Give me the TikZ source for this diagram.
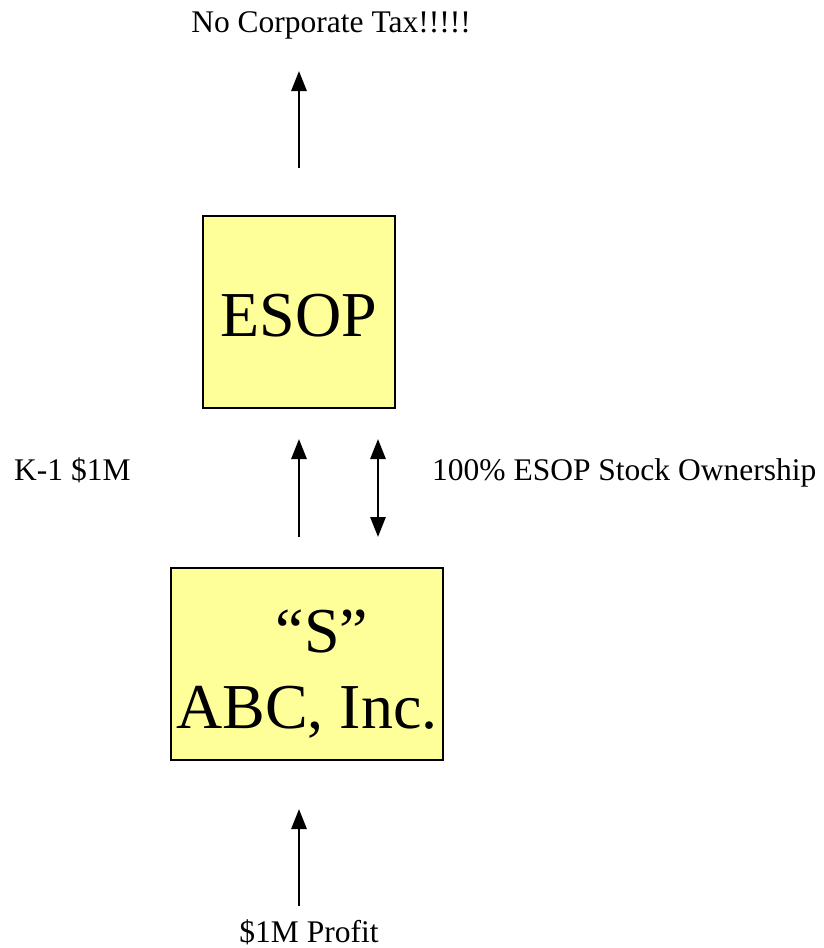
\documentclass[tikz,border=0pt]{standalone}
\usepackage{fontspec}
\setmainfont{Liberation Serif}
\usetikzlibrary{arrows.meta}
\definecolor{boxfill}{HTML}{FFFF99}
\begin{document}
\begin{tikzpicture}[x=1pt,y=-1pt,
  entity/.style={draw=black,line width=1.5pt,fill=boxfill,inner sep=0pt},
  big/.style={font=\fontsize{64}{72}\selectfont,inner sep=0pt,anchor=base},
  flow/.style={line width=2.8pt,-{Triangle[length=20pt,width=15pt]}},
  both/.style={line width=2.8pt,{Triangle[length=20pt,width=15pt]}-{Triangle[length=20pt,width=15pt]}},
  lbl/.style={font=\fontsize{31.5}{36}\selectfont,inner sep=0pt,anchor=base}]
\useasboundingbox (0,0) rectangle (824,948);
\node[entity,minimum width=192pt,minimum height=192pt] (esop) at (299,312) {};
\node[big] (esoptxt) at (299,336) {ESOP};
\node[entity,minimum width=272pt,minimum height=192pt] (abc) at (307,664) {};
\node[big] (stxt) at (322,652) {“S”};
\node[big] (abctxt) at (307,728) {ABC, Inc.};
\node[lbl] (tax) at (331,32) {No Corporate Tax!!!!!};
\node[lbl,anchor=base west] (k1) at (14,480) {K-1 \$1M};
\node[lbl,anchor=base west] (own) at (432,480) {100\% ESOP Stock Ownership};
\node[lbl] (profit) at (309,942) {\$1M Profit};
\coordinate (t1) at (299,168);
\coordinate (t2) at (299,71);
\coordinate (k1s) at (299,537);
\coordinate (k1e) at (299,439);
\coordinate (o1) at (378,439);
\coordinate (o2) at (378,537);
\coordinate (p1) at (299,906);
\coordinate (p2) at (299,809);
\draw[flow] (t1) -- (t2);
\draw[flow] (k1s) -- (k1e);
\draw[both] (o1) -- (o2);
\draw[flow] (p1) -- (p2);
\end{tikzpicture}
\end{document}
